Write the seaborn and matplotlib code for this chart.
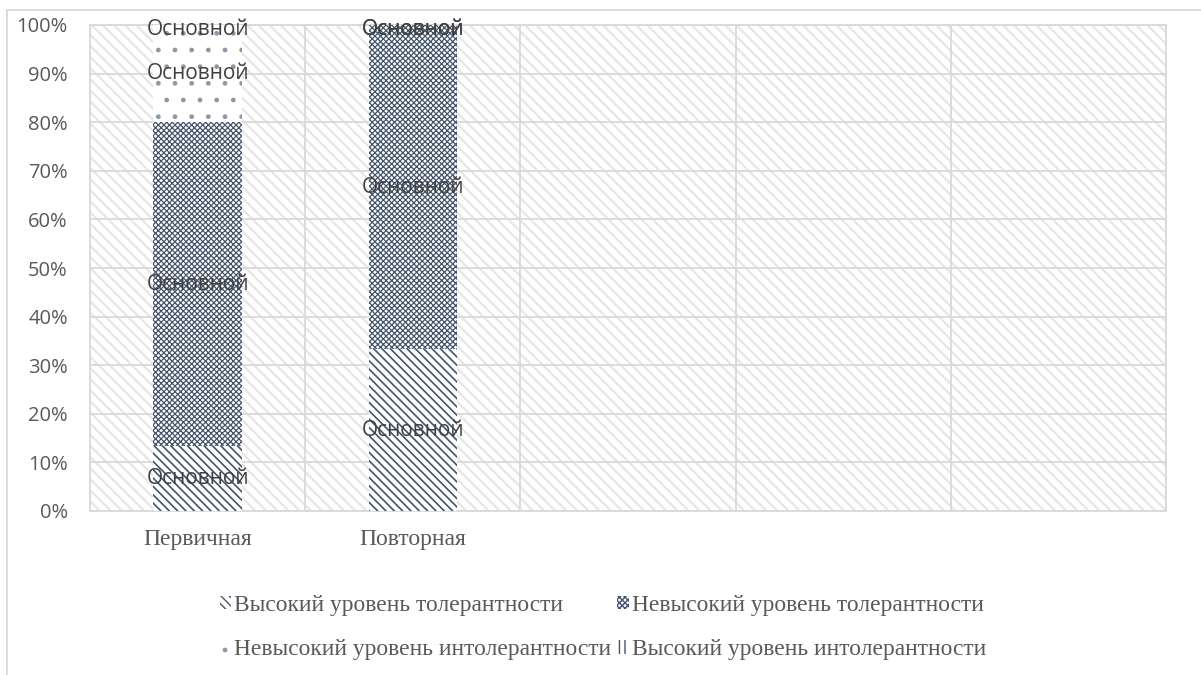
import matplotlib
matplotlib.use("Agg")
import matplotlib.pyplot as plt
import seaborn as sns
import pandas as pd
from matplotlib.patches import Rectangle, Patch
from matplotlib.lines import Line2D
from matplotlib.ticker import PercentFormatter, FixedLocator

# ---- data ----
categories = ["Первичная", "Повторная"]
n_slots = 5
series_names = ["Высокий уровень толерантности", "Невысокий уровень толерантности",
                "Невысокий уровень интолерантности", "Высокий уровень интолерантности"]
high_tol = [13.33, 33.33]
low_tol = [66.67, 66.67]
low_intol = [20.0, 0.0]
high_intol = [0.0, 0.0]
label_text = "Основной"
y_ticks = [0, 10, 20, 30, 40, 50, 60, 70, 80, 90, 100]

series_values = [high_tol, low_tol, low_intol, high_intol]

# ---- style ----
sns.set_theme(style="white")
plt.rcParams['font.family'] = ['Open Sans', 'DejaVu Sans']

HATCH_COL = "#44546A"
GRID_COL = "#D9D9D9"
TEXT_COL = "#595959"
styles = [
    dict(hatch="\\\\\\\\", lw=1.2, col=HATCH_COL),
    dict(hatch="xxxxxx", lw=0.9, col=HATCH_COL),
    dict(hatch=".", lw=1.0, col="#8C97AA"),
    dict(hatch="|||", lw=1.2, col=HATCH_COL),
]

fig = plt.figure(figsize=(12.01, 6.75), dpi=100)
ax = fig.add_axes([90 / 1201, 1 - 511 / 675, (1166 - 90) / 1201, (511 - 25) / 675])

# plot-area background hatch
with plt.rc_context({'hatch.linewidth': 1.6}):
    bg = Rectangle((0, 0), 1, 1, transform=ax.transAxes, facecolor="white",
                   edgecolor="#E6E6E6", hatch="\\\\\\", linewidth=0, zorder=0)
ax.add_patch(bg)

bottoms = [0.0] * len(categories)
label_pos = []
for name, vals, st in zip(series_names, series_values, styles):
    df = pd.DataFrame({"cat": categories, "val": vals})
    with plt.rc_context({'hatch.linewidth': st["lw"]}):
        sns.barplot(data=df, x="cat", y="val", order=categories, ax=ax,
                    bottom=bottoms, width=0.41, color="white", saturation=1,
                    edgecolor=st["col"], linewidth=0, hatch=st["hatch"],
                    errorbar=None, zorder=3)
    for j, v in enumerate(vals):
        label_pos.append((j, bottoms[j] + v / 2))
    bottoms = [b + v for b, v in zip(bottoms, vals)]

for j, yc in label_pos:
    off = -3.5 if yc >= 99.9 else 0
    ax.annotate(label_text, (j, yc), xytext=(0, off), textcoords="offset points",
                ha="center", va="center", fontsize=15, color="#404040", zorder=5)

ax.set_xlim(-0.5, n_slots - 0.5)
ax.set_ylim(0, 100)
ax.yaxis.set_major_locator(FixedLocator(y_ticks))
ax.yaxis.set_major_formatter(PercentFormatter(100, decimals=0))
ax.set_xticks(range(len(categories)))
ax.set_xticklabels(categories, fontfamily=["Liberation Serif"], fontsize=17, color=TEXT_COL)
ax.set_xlabel("")
ax.set_ylabel("")
ax.tick_params(axis="y", length=0, pad=16, labelsize=14.5, labelcolor=TEXT_COL)
ax.tick_params(axis="x", length=0, pad=13)
ax.xaxis.set_minor_locator(FixedLocator([i - 0.5 for i in range(n_slots + 1)]))
ax.grid(True, which="major", axis="y", color=GRID_COL, linewidth=1.3, zorder=1)
ax.grid(True, which="minor", axis="x", color=GRID_COL, linewidth=1.3, zorder=1)
ax.grid(False, which="major", axis="x")
ax.tick_params(axis="x", which="minor", length=0)
ax.set_axisbelow(True)
for sp in ax.spines.values():
    sp.set_color(GRID_COL)
    sp.set_linewidth(1.3)

# legend
handles = []
for name, st in zip(series_names, styles):
    handles.append(Patch(facecolor="white", edgecolor=st["col"], hatch=st["hatch"],
                         linewidth=0, label=name))
order_idx = [0, 2, 1, 3]
leg = fig.legend([handles[i] for i in order_idx], [series_names[i] for i in order_idx],
                 ncol=2, loc="center", bbox_to_anchor=(0.502, 0.07), frameon=False,
                 prop={"family": ["Liberation Serif"], "size": 16.9},
                 handlelength=0.5, handleheight=0.5, handletextpad=0.12,
                 columnspacing=0.25, labelspacing=1.0, labelcolor=TEXT_COL)

# chart-area border (partially visible)
fig.add_artist(Line2D([7 / 1201, 1], [1 - 10 / 675, 1 - 10 / 675], transform=fig.transFigure,
                      color=GRID_COL, linewidth=1.3))
fig.add_artist(Line2D([7 / 1201, 7 / 1201], [0, 1 - 10 / 675], transform=fig.transFigure,
                      color=GRID_COL, linewidth=1.3))

fig.savefig("out.png", dpi=100)
